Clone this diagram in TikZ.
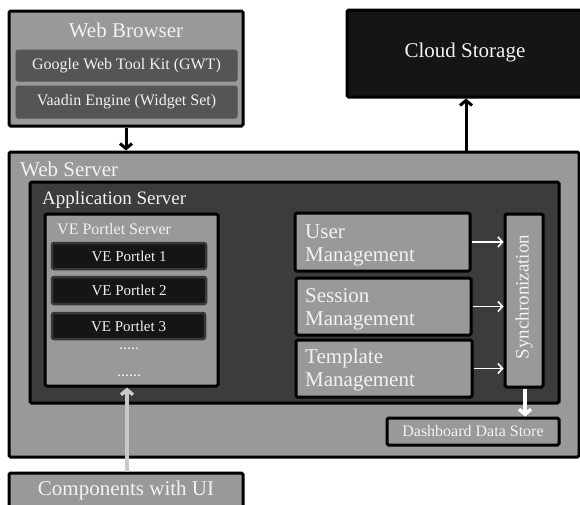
\documentclass[tikz,border=0pt]{standalone}
\usepackage{fontspec}
\setmainfont{Liberation Serif}
\usetikzlibrary{fit,arrows.meta}

\definecolor{midgray}{HTML}{999999}
\definecolor{subgray}{HTML}{555555}
\definecolor{appgray}{HTML}{3C3C3C}
\definecolor{nearblack}{HTML}{151515}
\definecolor{portletedge}{HTML}{383838}
\definecolor{txt}{HTML}{F2F2F2}
\definecolor{lightarrow}{HTML}{C8C8C8}

\tikzset{
  box/.style={draw=black, line width=3pt, fill=midgray, inner sep=0pt, rounded corners=1.5pt},
  subbox/.style={draw=subgray, line width=1pt, fill=subgray, inner sep=0pt, rounded corners=1.5pt},
  appbox/.style={draw=black, line width=3pt, fill=appgray, inner sep=0pt, rounded corners=1.5pt},
  darkbox/.style={draw=black, line width=3pt, fill=nearblack, inner sep=0pt, rounded corners=1.5pt},
  portlet/.style={draw=portletedge, line width=2.5pt, fill=nearblack, inner sep=0pt, rounded corners=2pt},
  lbl/.style={text=txt, inner sep=0pt},
  big/.style={lbl, font=\fontsize{21}{23}\selectfont},
  mid/.style={lbl, font=\fontsize{19}{21}\selectfont},
  small/.style={lbl, font=\fontsize{16}{18}\selectfont},
  tiny/.style={lbl, font=\fontsize{15}{17}\selectfont},
  blackarrow/.style={draw=black, line width=3pt, -{Straight Barb[length=5pt,width=12pt,line width=3pt]}},
  whitearrow/.style={draw=white, line width=1.6pt, -{Straight Barb[length=4.5pt,width=10pt,line width=1.6pt]}},
  thickwhite/.style={draw=white, line width=3.5pt, -{Straight Barb[length=5pt,width=12pt,line width=3.5pt]}},
  grayarrow/.style={draw=lightarrow, line width=3.5pt, -{Straight Barb[length=5pt,width=12pt,line width=3.5pt]}},
}

\begin{document}
\begin{tikzpicture}[x=1pt, y=-1pt]
\path[use as bounding box] (0,0) rectangle (580,504);
\clip (0,0) rectangle (580,504);
\fill[white] (0,0) rectangle (580,504);

% Browser side
\node[box, fit={(9,11) (243,126)}] (browser) {};
\node[big] (browserlbl) at (126,30) {Web Browser};
\node[subbox, fit={(16,50) (237,81)}] (gwt) {};
\node[small] at (gwt.center) {Google Web Tool Kit (GWT)};
\node[subbox, fit={(16,86) (237,118)}] (vaadin) {};
\node[small] at (vaadin.center) {Vaadin Engine (Widget Set)};

% Cloud storage
\node[darkbox, fit={(347,10) (590,97)}] (cloud) {};
\node[big] at (465,52) {Cloud Storage};

% Web server and application server
\node[box, fit={(9,152) (579,457)}] (webserver) {};
\node[big, anchor=west] at (20,169) {Web Server};
\node[appbox, fit={(30,182) (559,403)}] (appserver) {};
\node[mid, anchor=west] at (42,200) {Application Server};

% Portlet server
\node[box, fit={(45,214) (218,386)}] (portletserver) {};
\node[small, anchor=west] at (57,229) {VE Portlet Server};
\node[portlet, fit={(52,243) (206,269)}] (p1) {};
\node[tiny] at (p1.center) {VE Portlet 1};
\node[portlet, fit={(52,277) (206,304)}] (p2) {};
\node[tiny] at (p2.center) {VE Portlet 2};
\node[portlet, fit={(52,313) (205,339)}] (p3) {};
\node[tiny] at (p3.center) {VE Portlet 3};
\node[small, anchor=base] (dots1) at (129,349) {.....};
\node[small, anchor=base] (dots2) at (129,376) {......};

% Management services
\node[box, fit={(295,213) (470,271)}] (user) {};
\node[big, anchor=west, align=left] at (305,245) {User\\Management};
\node[box, fit={(296,278) (471,335)}] (session) {};
\node[big, anchor=west, align=left] at (305,309) {Session\\Management};
\node[box, fit={(296,340) (472,397)}] (template) {};
\node[big, anchor=west, align=left] at (305,370) {Template\\Management};

\node[box, fit={(505,214) (543,387)}] (sync) {};
\node[mid, rotate=90] at (524,297) {Synchronization};

\node[box, fit={(387,418) (559,445)}] (store) {};
\node[small] at (store.center) {Dashboard Data Store};

% Components
\node[box, fit={(9,473) (243,520)}] (components) {};
\node[big] at (126,490) {Components with UI};

% Connectors
\draw[blackarrow] (browser.south) -- (browser.south |- webserver.north);
\draw[blackarrow] (webserver.north -| 466,0) -- (466,0 |- cloud.south);
\draw[whitearrow] (user.east) -- (user.east -| sync.west);
\draw[whitearrow] (session.east) -- (session.east -| sync.west);
\draw[whitearrow] (template.east) -- (template.east -| sync.west);
\draw[thickwhite] (sync.south) ++(1,0) coordinate (syncbot) -- (syncbot |- store.north);
\draw[grayarrow] (components.north -| 127,0) -- (127,0 |- portletserver.south);
\end{tikzpicture}
\end{document}
